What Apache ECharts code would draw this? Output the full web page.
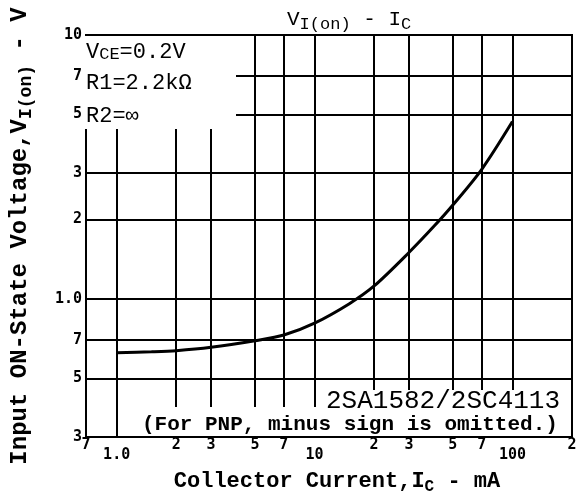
<!DOCTYPE html>
<html><head><meta charset="utf-8">
<script src="https://cdn.jsdelivr.net/npm/echarts@6/dist/echarts.min.js"></script>
<style>html,body{margin:0;padding:0;background:#fff}#c{width:584px;height:500px}</style>
</head><body><div id="c"></div>
<script>
// Data
const currentMA = [1, 1.5, 2, 3, 5, 7, 10, 15, 20, 30, 40, 50, 70, 100];
const voltageV  = [0.626, 0.631, 0.637, 0.656, 0.695, 0.73, 0.81, 0.96, 1.12, 1.5, 1.88, 2.27, 3.1, 4.7];
const xTicks = [0.7, 1, 2, 3, 5, 7, 10, 20, 30, 50, 70, 100, 200];
const xTickLabels = ['7', '1.0', '2', '3', '5', '7', '10', '2', '3', '5', '7', '100', '2'];
const xDecades = [1, 10, 100];
const yTicks = [0.3, 0.5, 0.7, 1, 2, 3, 5, 7, 10];
const yTickLabels = ['3', '5', '7', '1.0', '2', '3', '5', '7', '10'];

function findIdx(arr, v) {
  for (let i = 0; i < arr.length; i++) if (Math.abs(v - arr[i]) / arr[i] < 1e-6) return i;
  return -1;
}
const MONO = '"Liberation Mono", "DejaVu Sans Mono", monospace';
const TICKF = '"DejaVu Sans Mono", "Liberation Mono", monospace';
const chart = echarts.init(document.getElementById('c'), null, {renderer: 'canvas'});
const option = {
  animation: false,
  backgroundColor: '#fff',
  title: {
    text: 'V{s|I(on)} - I{s|C}',
    left: 282, top: 1,
    textStyle: {
      fontFamily: MONO, fontSize: 21, fontWeight: 'normal', color: '#000',
      rich: {s: {fontFamily: MONO, fontSize: 17, color: '#000', padding: [10, 0, 0, 0]}}
    }
  },
  grid: {left: 82, right: 12, top: 35, bottom: 63, show: true, borderColor: '#000', borderWidth: 2},
  xAxis: {
    type: 'log', logBase: 10, min: 0.7, max: 200,
    name: 'Collector Current,I{s|C} - mA',
    nameLocation: 'middle', nameGap: 30,
    nameTextStyle: {
      fontFamily: MONO, fontSize: 22, fontWeight: 'bold', color: '#000', padding: [0, 0, 0, 16],
      rich: {s: {fontFamily: MONO, fontSize: 16, fontWeight: 'bold', color: '#000', padding: [12, 0, 0, 0]}}
    },
    axisLine: {show: true, lineStyle: {color: '#000', width: 2}},
    axisTick: {show: false, customValues: xTicks},
    splitLine: {show: true, lineStyle: {color: '#000', width: 2}},
    axisLabel: {
      customValues: xTicks, margin: 1, showMinLabel: true, showMaxLabel: true,
      fontFamily: TICKF, fontSize: 15, fontWeight: 'bold', color: '#000',
      formatter: function (v) {
        const i = findIdx(xTicks, v);
        if (i < 0) return '';
        return findIdx(xDecades, v) >= 0 ? '{lo|' + xTickLabels[i] + '}' : xTickLabels[i];
      },
      rich: {lo: {fontFamily: TICKF, fontSize: 15, fontWeight: 'bold', color: '#000', padding: [10, 0, 0, 0]}}
    }
  },
  yAxis: {
    type: 'log', logBase: 10, min: 0.3, max: 10,
    name: 'Input ON-State Voltage,V{s|I(on)} - V',
    nameLocation: 'middle', nameGap: 51, nameRotate: 90,
    nameTextStyle: {
      fontFamily: MONO, fontSize: 24, fontWeight: 'bold', color: '#000',
      rich: {s: {fontFamily: MONO, fontSize: 18, fontWeight: 'bold', color: '#000', padding: [12, 0, 0, 0]}}
    },
    axisLine: {show: true, lineStyle: {color: '#000', width: 2}},
    axisTick: {show: false, customValues: yTicks},
    splitLine: {show: true, lineStyle: {color: '#000', width: 2}},
    axisLabel: {
      customValues: yTicks, margin: 4, showMinLabel: true, showMaxLabel: true,
      fontFamily: TICKF, fontSize: 15, fontWeight: 'bold', color: '#000',
      formatter: function (v) {
        const i = findIdx(yTicks, v);
        return i < 0 ? '' : yTickLabels[i];
      }
    }
  },
  series: [{
    type: 'line',
    data: currentMA.map((x, i) => [x, voltageV[i]]),
    smooth: 0.3,
    showSymbol: false,
    lineStyle: {color: '#000', width: 3},
    z: 5
  }],
  graphic: [
    {type: 'rect', z: 100, shape: {x: 83, y: 36, width: 153, height: 93}, style: {fill: '#fff'}},
    {type: 'rect', z: 100, shape: {x: 120, y: 407, width: 451, height: 29}, style: {fill: '#fff'}},
    {type: 'rect', z: 100, shape: {x: 318, y: 390, width: 253, height: 18}, style: {fill: '#fff'}},
    {type: 'text', z: 101, left: 86, top: 41, style: {
      text: 'V{s|CE}=0.2V', fill: '#000', font: 'normal 22px ' + MONO,
      rich: {s: {fontFamily: MONO, fontSize: 17, fill: '#000', padding: [4, 0, 0, 0]}}
    }},
    {type: 'text', z: 101, left: 86, top: 72, style: {text: 'R1=2.2kΩ', fill: '#000', font: 'normal 22px ' + MONO}},
    {type: 'text', z: 101, left: 86, top: 105, style: {text: 'R2=∞', fill: '#000', font: 'normal 22px ' + MONO}},
    {type: 'text', z: 101, left: 326, top: 388, style: {text: '2SA1582/2SC4113', fill: '#000', font: 'normal 26px ' + MONO}},
    {type: 'text', z: 101, left: 142, top: 414, style: {text: '(For PNP, minus sign is omitted.)', fill: '#000', font: 'bold 21px ' + MONO}}
  ]
};
chart.setOption(option);
</script>
</body></html>
